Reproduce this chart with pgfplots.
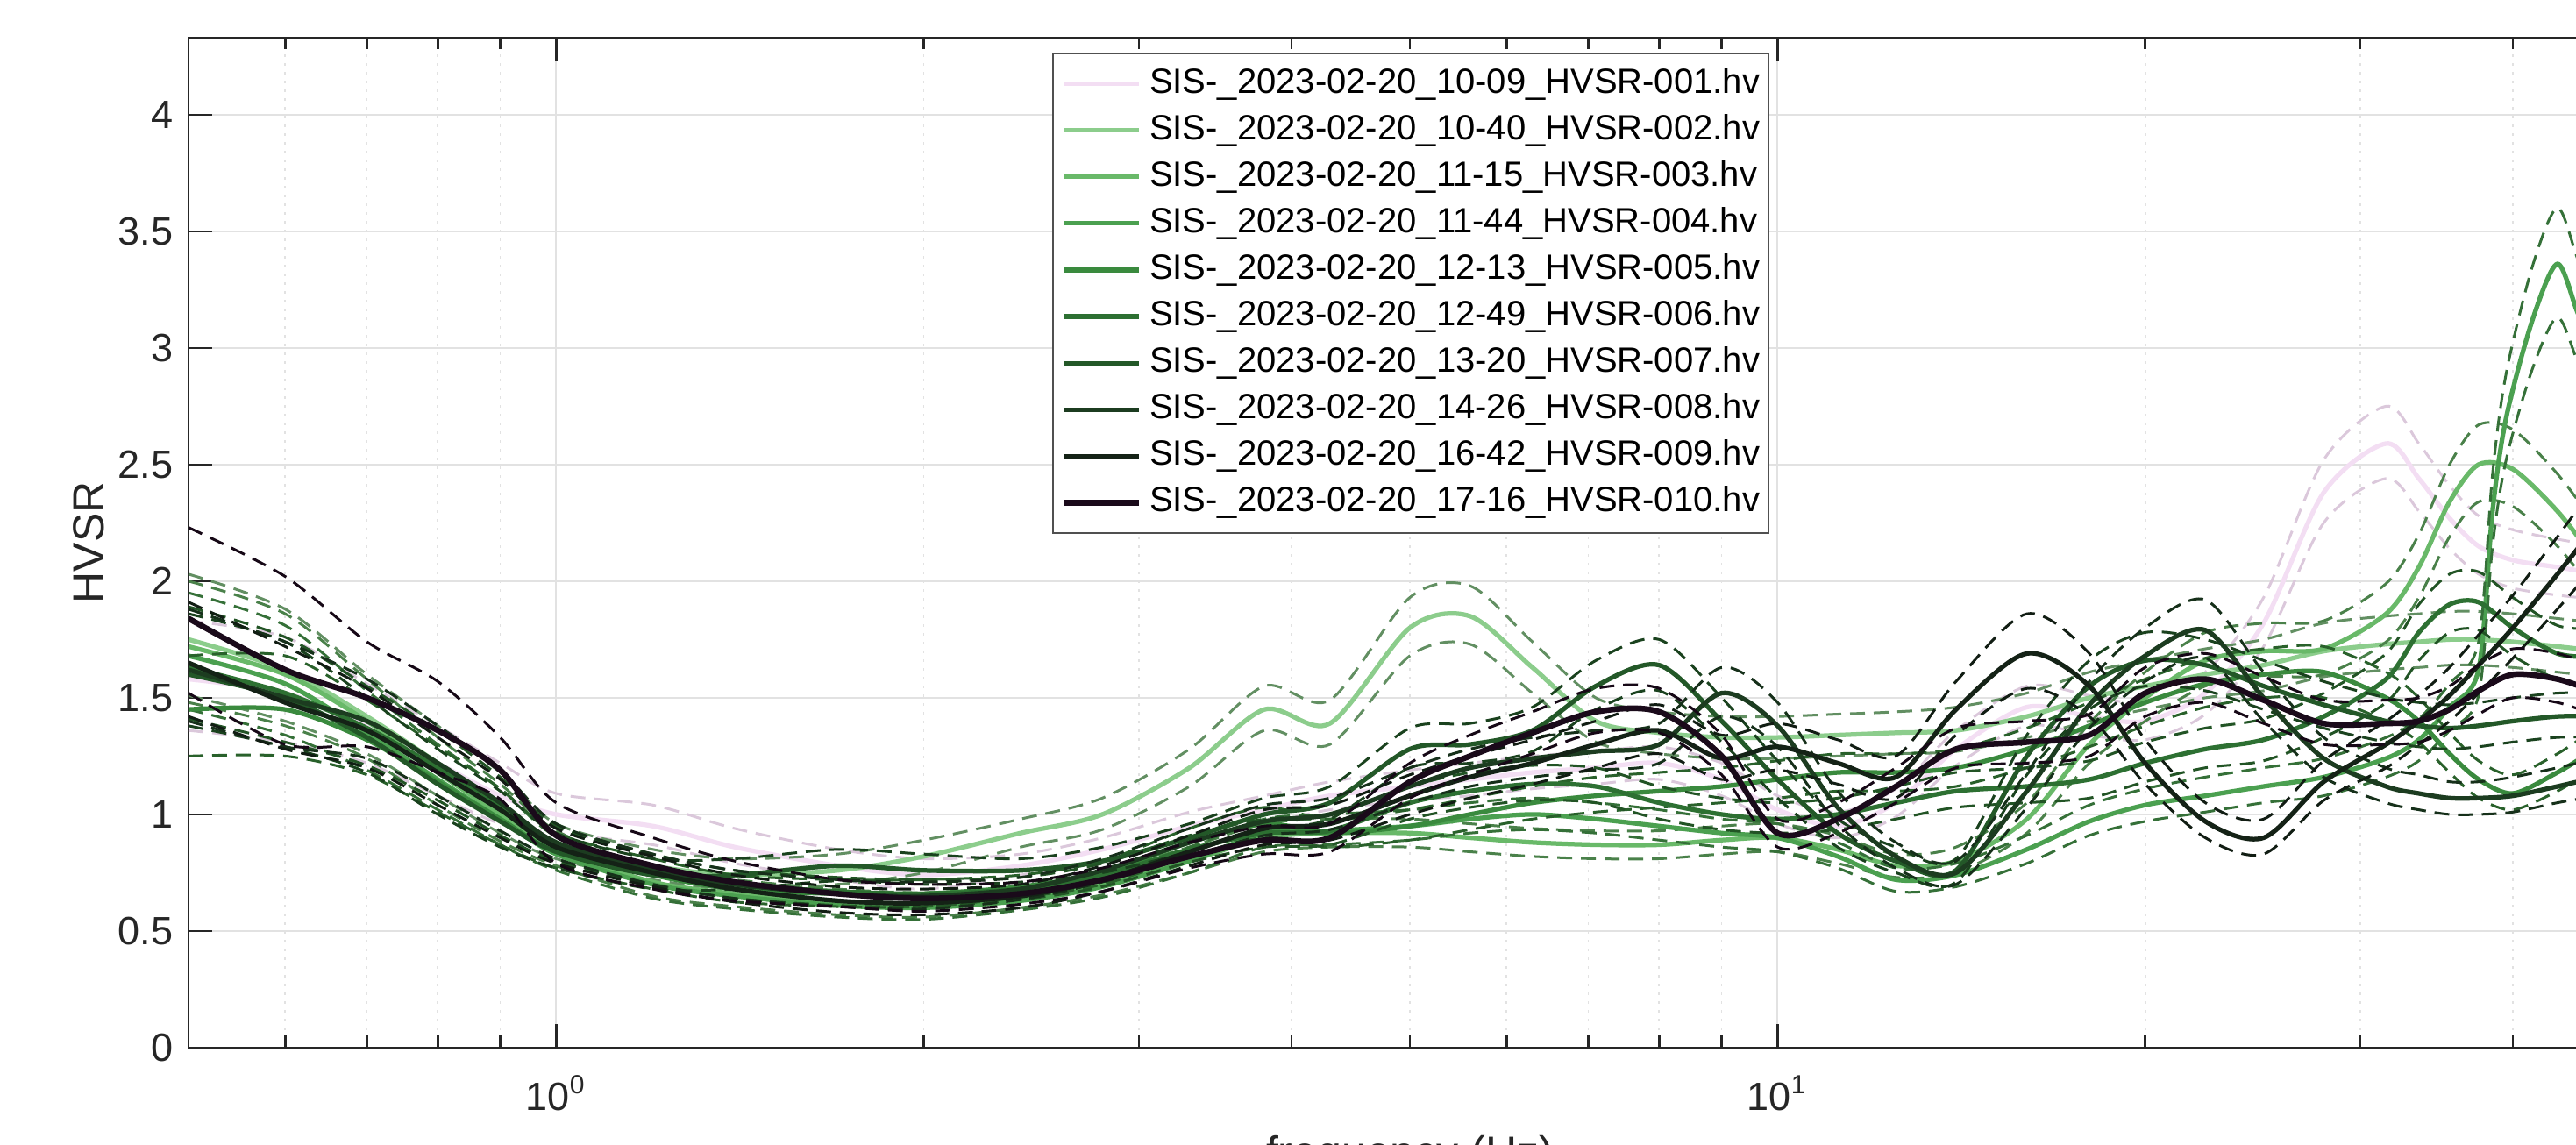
\documentclass[border=0pt]{standalone}
\usepackage{fontspec}
\setmainfont{Liberation Sans}
\usepackage{pgfplots}
\usepackage{pgfplotstable}
\pgfplotsset{compat=1.18}
\definecolor{c1}{RGB}{243,222,243}
\definecolor{c2}{RGB}{140,205,140}
\definecolor{c3}{RGB}{105,185,105}
\definecolor{c4}{RGB}{75,160,80}
\definecolor{c5}{RGB}{58,138,62}
\definecolor{c6}{RGB}{45,112,50}
\definecolor{c7}{RGB}{35,88,40}
\definecolor{c8}{RGB}{28,60,32}
\definecolor{c9}{RGB}{20,34,22}
\definecolor{c10}{RGB}{26,10,26}
\definecolor{axc}{RGB}{38,38,38}
\definecolor{gridmaj}{RGB}{226,226,226}
\definecolor{gridmin}{RGB}{226,226,226}
\definecolor{legc}{RGB}{80,80,80}
\pgfplotsset{
 sol/.style={smooth, draw=#1, line width=1.05pt},
 das/.style={smooth, forget plot, draw=#1, line width=0.6pt, dash pattern=on 3.4pt off 2pt},
}
\pgfplotstableread{
f m lo hi
0.5 1.58 1.36 1.83
0.6 1.52 1.31 1.76
0.7 1.38 1.22 1.56
0.8 1.22 1.08 1.38
0.9 1.08 0.96 1.22
1.0 1.00 0.92 1.09
1.2 0.95 0.87 1.04
1.4 0.86 0.79 0.94
1.7 0.78 0.72 0.85
2.0 0.74 0.68 0.81
2.4 0.78 0.74 0.83
2.8 0.85 0.80 0.90
3.3 0.95 0.90 1.01
3.8 1.02 0.96 1.08
4.3 1.08 1.02 1.14
5.0 1.12 1.06 1.19
5.6 1.15 1.08 1.22
6.3 1.18 1.11 1.25
7.1 1.20 1.13 1.27
8.0 1.22 1.15 1.29
9.0 1.15 1.08 1.22
10 1.02 0.96 1.08
11.2 0.95 0.90 1.01
12.5 1.05 0.99 1.11
14 1.28 1.21 1.36
16 1.46 1.38 1.55
18 1.42 1.34 1.51
20 1.40 1.32 1.48
22.4 1.52 1.43 1.61
25 1.82 1.72 1.93
28 2.38 2.25 2.52
31.5 2.59 2.44 2.75
33.5 2.44 2.30 2.59
35.5 2.27 2.14 2.41
37.5 2.15 2.03 2.28
40 2.09 1.97 2.22
43.5 2.06 1.94 2.18
47 2.03 1.92 2.15
50 2.00 1.89 2.12
}\tA
\pgfplotstableread{
f m lo hi
0.5 1.75 1.51 2.03
0.6 1.62 1.40 1.88
0.7 1.42 1.26 1.60
0.8 1.22 1.08 1.38
0.9 1.04 0.92 1.18
1.0 0.88 0.81 0.96
1.2 0.78 0.72 0.85
1.4 0.74 0.68 0.81
1.7 0.76 0.70 0.83
2.0 0.82 0.75 0.89
2.4 0.92 0.86 0.98
2.8 1.00 0.935 1.07
3.3 1.20 1.12 1.28
3.8 1.45 1.36 1.55
4.3 1.39 1.30 1.49
5.0 1.80 1.68 1.93
5.6 1.85 1.73 1.98
6.3 1.63 1.52 1.74
7.1 1.40 1.31 1.50
8.0 1.35 1.26 1.44
9.0 1.33 1.24 1.42
10 1.33 1.24 1.42
11.2 1.34 1.25 1.43
12.5 1.35 1.26 1.44
14 1.36 1.27 1.46
16 1.42 1.33 1.52
18 1.50 1.40 1.61
20 1.55 1.45 1.66
22.4 1.60 1.50 1.71
25 1.64 1.53 1.75
28 1.70 1.59 1.82
31.5 1.73 1.62 1.85
33.5 1.74 1.63 1.86
35.5 1.75 1.64 1.87
37.5 1.75 1.64 1.87
40 1.74 1.63 1.86
43.5 1.72 1.61 1.84
47 1.70 1.59 1.82
50 1.68 1.57 1.80
}\tB
\pgfplotstableread{
f m lo hi
0.5 1.72 1.48 2.00
0.6 1.60 1.38 1.86
0.7 1.40 1.24 1.58
0.8 1.18 1.04 1.33
0.9 1.00 0.885 1.13
1.0 0.85 0.78 0.93
1.2 0.71 0.65 0.77
1.4 0.66 0.605 0.72
1.7 0.62 0.57 0.68
2.0 0.61 0.56 0.665
2.4 0.64 0.60 0.685
2.8 0.70 0.655 0.75
3.3 0.80 0.75 0.86
3.8 0.90 0.84 0.96
4.3 0.92 0.86 0.98
5.0 0.92 0.86 0.98
5.6 0.90 0.84 0.96
6.3 0.88 0.82 0.94
7.1 0.87 0.81 0.93
8.0 0.87 0.81 0.93
9.0 0.89 0.83 0.95
10 0.90 0.84 0.96
11.2 0.85 0.79 0.91
12.5 0.78 0.73 0.83
14 0.80 0.75 0.86
16 0.98 0.92 1.05
18 1.30 1.22 1.39
20 1.50 1.40 1.61
22.4 1.66 1.55 1.78
25 1.70 1.59 1.82
28 1.71 1.60 1.83
31.5 1.86 1.74 1.99
33.5 2.06 1.93 2.20
35.5 2.34 2.19 2.50
37.5 2.50 2.34 2.67
40 2.48 2.32 2.65
43.5 2.30 2.15 2.46
47 2.08 1.94 2.23
50 1.95 1.82 2.09
}\tC
\pgfplotstableread{
f m lo hi
0.5 1.68 1.45 1.95
0.6 1.56 1.34 1.81
0.7 1.35 1.19 1.53
0.8 1.15 1.02 1.30
0.9 0.98 0.87 1.11
1.0 0.83 0.76 0.905
1.2 0.70 0.64 0.76
1.4 0.65 0.595 0.71
1.7 0.61 0.56 0.665
2.0 0.60 0.55 0.655
2.4 0.63 0.59 0.675
2.8 0.69 0.645 0.74
3.3 0.80 0.75 0.86
3.8 0.92 0.86 0.98
4.3 0.93 0.87 1.00
5.0 0.95 0.89 1.02
5.6 0.98 0.92 1.05
6.3 1.00 0.935 1.07
7.1 0.98 0.92 1.05
8.0 0.95 0.89 1.02
9.0 0.92 0.86 0.98
10 0.90 0.84 0.96
11.2 0.82 0.77 0.88
12.5 0.72 0.67 0.77
14 0.74 0.69 0.79
16 0.85 0.79 0.91
18 0.97 0.91 1.04
20 1.04 0.97 1.11
22.4 1.08 1.01 1.16
25 1.12 1.05 1.20
28 1.16 1.08 1.24
31.5 1.24 1.16 1.33
33.5 1.32 1.23 1.41
35.5 1.46 1.36 1.56
37.5 1.62 1.51 1.74
38.5 2.30 2.15 2.46
39.5 2.70 2.52 2.89
41.5 3.12 2.91 3.35
43.5 3.36 3.13 3.60
45.2 3.15 2.94 3.38
47 2.95 2.75 3.16
50 2.60 2.42 2.79
}\tD
\pgfplotstableread{
f m lo hi
0.5 1.45 1.25 1.68
0.6 1.45 1.25 1.68
0.7 1.32 1.17 1.49
0.8 1.14 1.01 1.29
0.9 0.98 0.87 1.11
1.0 0.84 0.77 0.92
1.2 0.74 0.68 0.81
1.4 0.68 0.625 0.74
1.7 0.66 0.605 0.72
2.0 0.66 0.605 0.72
2.4 0.69 0.645 0.74
2.8 0.75 0.70 0.80
3.3 0.88 0.82 0.94
3.8 0.96 0.90 1.03
4.3 0.92 0.86 0.98
5.0 0.95 0.89 1.02
5.6 1.00 0.935 1.07
6.3 1.05 0.98 1.12
7.1 1.08 1.01 1.16
8.0 1.10 1.03 1.18
9.0 1.12 1.05 1.20
10 1.15 1.07 1.23
11.2 1.18 1.10 1.26
12.5 1.18 1.10 1.26
14 1.20 1.12 1.28
16 1.28 1.20 1.37
18 1.38 1.29 1.48
20 1.48 1.38 1.58
22.4 1.56 1.46 1.67
25 1.60 1.50 1.71
28 1.61 1.50 1.72
31.5 1.50 1.40 1.61
33.5 1.40 1.31 1.50
35.5 1.26 1.18 1.35
37.5 1.15 1.07 1.23
40 1.09 1.02 1.17
43.5 1.18 1.10 1.26
47 1.28 1.20 1.37
50 1.30 1.21 1.39
}\tE
\pgfplotstableread{
f m lo hi
0.5 1.63 1.41 1.89
0.6 1.52 1.31 1.76
0.7 1.37 1.21 1.55
0.8 1.20 1.06 1.36
0.9 1.03 0.91 1.16
1.0 0.87 0.80 0.95
1.2 0.76 0.70 0.83
1.4 0.70 0.64 0.76
1.7 0.67 0.61 0.73
2.0 0.66 0.605 0.72
2.4 0.68 0.635 0.73
2.8 0.74 0.69 0.79
3.3 0.85 0.795 0.91
3.8 0.92 0.86 0.98
4.3 0.93 0.87 1.00
5.0 1.05 0.98 1.12
5.6 1.10 1.03 1.18
6.3 1.13 1.06 1.21
7.1 1.12 1.05 1.20
8.0 1.05 0.98 1.12
9.0 1.00 0.935 1.07
10 0.98 0.92 1.05
11.2 1.00 0.935 1.07
12.5 1.05 0.98 1.12
14 1.10 1.03 1.18
16 1.12 1.05 1.20
18 1.15 1.07 1.23
20 1.22 1.14 1.31
22.4 1.28 1.20 1.37
25 1.32 1.23 1.41
28 1.42 1.33 1.52
31.5 1.58 1.48 1.69
33.5 1.78 1.66 1.90
35.5 1.90 1.78 2.03
37.5 1.91 1.79 2.04
40 1.80 1.68 1.93
43.5 1.69 1.58 1.81
47 1.67 1.56 1.79
50 1.63 1.52 1.74
}\tF
\pgfplotstableread{
f m lo hi
0.5 1.60 1.38 1.86
0.6 1.50 1.29 1.74
0.7 1.33 1.18 1.50
0.8 1.13 1.00 1.28
0.9 0.97 0.86 1.10
1.0 0.84 0.77 0.92
1.2 0.74 0.68 0.81
1.4 0.74 0.68 0.81
1.7 0.78 0.715 0.85
2.0 0.76 0.70 0.83
2.4 0.76 0.71 0.81
2.8 0.80 0.75 0.86
3.3 0.90 0.84 0.96
3.8 1.00 0.935 1.07
4.3 1.05 0.98 1.12
5.0 1.28 1.20 1.37
5.6 1.30 1.22 1.39
6.3 1.36 1.27 1.46
7.1 1.55 1.45 1.66
8.0 1.64 1.53 1.75
9.0 1.40 1.31 1.50
10 1.15 1.07 1.23
11.2 0.92 0.86 0.98
12.5 0.80 0.75 0.86
14 0.76 0.71 0.81
16 1.25 1.17 1.34
18 1.55 1.45 1.66
20 1.66 1.55 1.78
22.4 1.64 1.53 1.75
25 1.55 1.45 1.66
28 1.47 1.37 1.57
31.5 1.40 1.31 1.50
33.5 1.38 1.29 1.48
35.5 1.37 1.28 1.47
37.5 1.38 1.29 1.48
40 1.40 1.31 1.50
43.5 1.42 1.33 1.52
47 1.42 1.33 1.52
50 1.40 1.31 1.50
}\tG
\pgfplotstableread{
f m lo hi
0.5 1.62 1.40 1.88
0.6 1.50 1.29 1.74
0.7 1.40 1.24 1.58
0.8 1.22 1.08 1.38
0.9 1.05 0.93 1.19
1.0 0.88 0.81 0.96
1.2 0.76 0.70 0.83
1.4 0.70 0.64 0.76
1.7 0.66 0.605 0.72
2.0 0.65 0.595 0.71
2.4 0.68 0.635 0.73
2.8 0.76 0.71 0.81
3.3 0.88 0.82 0.94
3.8 0.97 0.91 1.04
4.3 1.00 0.935 1.07
5.0 1.12 1.05 1.20
5.6 1.20 1.12 1.28
6.3 1.24 1.16 1.33
7.1 1.27 1.19 1.36
8.0 1.30 1.22 1.39
9.0 1.52 1.42 1.63
10 1.38 1.29 1.48
11.2 1.03 0.96 1.10
12.5 0.82 0.77 0.88
14 0.75 0.70 0.80
16 1.10 1.03 1.18
18 1.47 1.37 1.57
20 1.68 1.57 1.80
22.4 1.79 1.67 1.92
25 1.50 1.40 1.61
28 1.24 1.16 1.33
31.5 1.12 1.05 1.20
33.5 1.09 1.02 1.17
35.5 1.07 1.00 1.14
37.5 1.07 1.00 1.14
40 1.08 1.01 1.16
43.5 1.12 1.05 1.20
47 1.16 1.08 1.24
50 1.18 1.10 1.26
}\tH
\pgfplotstableread{
f m lo hi
0.5 1.65 1.42 1.91
0.6 1.48 1.28 1.72
0.7 1.36 1.20 1.54
0.8 1.18 1.04 1.33
0.9 1.02 0.90 1.15
1.0 0.86 0.79 0.94
1.2 0.75 0.69 0.82
1.4 0.68 0.625 0.74
1.7 0.63 0.58 0.69
2.0 0.62 0.57 0.68
2.4 0.65 0.60 0.70
2.8 0.72 0.67 0.78
3.3 0.84 0.78 0.91
3.8 0.94 0.87 1.02
4.3 0.96 0.89 1.04
5.0 1.08 1.00 1.17
5.6 1.16 1.07 1.25
6.3 1.22 1.13 1.32
7.1 1.30 1.20 1.40
8.0 1.36 1.26 1.47
9.0 1.24 1.15 1.34
10 1.29 1.19 1.39
11.2 1.22 1.13 1.32
12.5 1.16 1.07 1.25
14 1.45 1.34 1.57
16 1.69 1.54 1.86
18 1.55 1.42 1.69
20 1.22 1.13 1.32
22.4 0.97 0.90 1.05
25 0.90 0.83 0.98
28 1.14 1.06 1.23
31.5 1.30 1.20 1.40
33.5 1.40 1.30 1.51
35.5 1.51 1.40 1.63
37.5 1.64 1.52 1.77
40 1.80 1.67 1.94
43.5 2.03 1.88 2.19
47 2.25 2.08 2.43
50 2.40 2.22 2.59
}\tI
\pgfplotstableread{
f m lo hi
0.5 1.84 1.52 2.23
0.6 1.62 1.30 2.02
0.7 1.50 1.29 1.74
0.8 1.36 1.18 1.57
0.9 1.19 1.065 1.33
1.0 0.91 0.79 1.05
1.2 0.78 0.68 0.90
1.4 0.71 0.63 0.80
1.7 0.66 0.605 0.72
2.0 0.64 0.585 0.70
2.4 0.66 0.615 0.71
2.8 0.72 0.67 0.77
3.3 0.82 0.77 0.88
3.8 0.89 0.83 0.95
4.3 0.90 0.84 0.96
5.0 1.14 1.07 1.22
5.6 1.25 1.17 1.34
6.3 1.35 1.26 1.44
7.1 1.44 1.35 1.54
8.0 1.44 1.35 1.54
9.0 1.25 1.17 1.34
10 0.92 0.86 0.98
11.2 0.98 0.92 1.05
12.5 1.12 1.05 1.20
14 1.28 1.20 1.37
16 1.31 1.22 1.40
18 1.34 1.25 1.43
20 1.52 1.42 1.63
22.4 1.58 1.48 1.69
25 1.49 1.39 1.59
28 1.39 1.30 1.49
31.5 1.39 1.30 1.49
33.5 1.40 1.31 1.50
35.5 1.45 1.36 1.55
37.5 1.53 1.43 1.64
40 1.60 1.50 1.71
43.5 1.58 1.48 1.69
47 1.52 1.42 1.63
50 1.46 1.36 1.56
}\tJ
\begin{document}
\begin{tikzpicture}
\begin{axis}[
 name=ax, at={(0,0)}, anchor=south west,
 scale only axis, width=557.2pt, height=230.4pt,
 xmode=log, log basis x=10,
 xmin=0.5, xmax=50, ymin=0, ymax=4.33,
 xtick={1,10}, xticklabels={10\textsuperscript{0},10\textsuperscript{1}},
 minor xtick={0.6,0.7,0.8,0.9,2,3,4,5,6,7,8,9,20,30,40},
 ytick={0,0.5,1,1.5,2,2.5,3,3.5,4},
 yticklabels={0,0.5,1,1.5,2,2.5,3,3.5,4},
 tick align=inside, major tick length=5.4pt, minor tick length=2.7pt,
 xmajorgrids, xminorgrids, ymajorgrids,
 major grid style={draw=gridmaj, line width=0.4pt},
 minor grid style={draw=gridmin, line width=0.35pt, dash pattern=on 0.5pt off 1.5pt},
 axis line style={draw=axc, line width=0.5pt},
 every tick/.style={draw=axc, line width=0.5pt},
 tick label style={font=\fontsize{9}{10}\selectfont, text=axc},
 xticklabel style={anchor=base, yshift=-14.4pt},
 xlabel={frequency (Hz)}, ylabel={HVSR},
 label style={font=\fontsize{10}{12}\selectfont, text=axc},
 xlabel style={at={(axis description cs:0.5,-0.1189)}, anchor=base},
 ylabel style={at={(axis description cs:-0.0409,0.5)}, anchor=center},
 legend style={at={(0.3536,0.9852)}, anchor=north west, draw=legc, line width=0.4pt,
   fill=white, font=\fontsize{8}{9.6}\selectfont, inner xsep=2pt, inner ysep=3pt,
   row sep=2.82pt, column sep=1.7pt,
   nodes={inner sep=0pt, text height=6pt, text depth=1.8pt}},
 legend cell align=left,
 legend image code/.code={\draw[#1] (0pt,0pt) -- (17pt,0pt);},
]
\addplot[sol=c1] table[x=f,y=m]{\tA};
\addlegendentry{SIS-\_2023-02-20\_10-09\_HVSR-001.hv}
\addplot[das=c1!90!black] table[x=f,y=hi]{\tA};
\addplot[das=c1!90!black] table[x=f,y=lo]{\tA};
\addplot[sol=c2] table[x=f,y=m]{\tB};
\addlegendentry{SIS-\_2023-02-20\_10-40\_HVSR-002.hv}
\addplot[das=c2!70!black] table[x=f,y=hi]{\tB};
\addplot[das=c2!70!black] table[x=f,y=lo]{\tB};
\addplot[sol=c3] table[x=f,y=m]{\tC};
\addlegendentry{SIS-\_2023-02-20\_11-15\_HVSR-003.hv}
\addplot[das=c3!70!black] table[x=f,y=hi]{\tC};
\addplot[das=c3!70!black] table[x=f,y=lo]{\tC};
\addplot[sol=c4] table[x=f,y=m]{\tD};
\addlegendentry{SIS-\_2023-02-20\_11-44\_HVSR-004.hv}
\addplot[das=c4!70!black] table[x=f,y=hi]{\tD};
\addplot[das=c4!70!black] table[x=f,y=lo]{\tD};
\addplot[sol=c5] table[x=f,y=m]{\tE};
\addlegendentry{SIS-\_2023-02-20\_12-13\_HVSR-005.hv}
\addplot[das=c5!70!black] table[x=f,y=hi]{\tE};
\addplot[das=c5!70!black] table[x=f,y=lo]{\tE};
\addplot[sol=c6] table[x=f,y=m]{\tF};
\addlegendentry{SIS-\_2023-02-20\_12-49\_HVSR-006.hv}
\addplot[das=c6!75!black] table[x=f,y=hi]{\tF};
\addplot[das=c6!75!black] table[x=f,y=lo]{\tF};
\addplot[sol=c7] table[x=f,y=m]{\tG};
\addlegendentry{SIS-\_2023-02-20\_13-20\_HVSR-007.hv}
\addplot[das=c7!75!black] table[x=f,y=hi]{\tG};
\addplot[das=c7!75!black] table[x=f,y=lo]{\tG};
\addplot[sol=c8] table[x=f,y=m]{\tH};
\addlegendentry{SIS-\_2023-02-20\_14-26\_HVSR-008.hv}
\addplot[das=c8!80!black] table[x=f,y=hi]{\tH};
\addplot[das=c8!80!black] table[x=f,y=lo]{\tH};
\addplot[sol=c9] table[x=f,y=m]{\tI};
\addlegendentry{SIS-\_2023-02-20\_16-42\_HVSR-009.hv}
\addplot[das=c9!85!black] table[x=f,y=hi]{\tI};
\addplot[das=c9!85!black] table[x=f,y=lo]{\tI};
\addplot[sol=c10, line width=1.3pt] table[x=f,y=m]{\tJ};
\addlegendentry{SIS-\_2023-02-20\_17-16\_HVSR-010.hv}
\addplot[das=c10!85!black] table[x=f,y=hi]{\tJ};
\addplot[das=c10!85!black] table[x=f,y=lo]{\tJ};
\end{axis}
\pgfresetboundingbox
\path[use as bounding box] (-43pt,-22.2pt) rectangle (544.6pt,239pt);
\end{tikzpicture}
\end{document}
